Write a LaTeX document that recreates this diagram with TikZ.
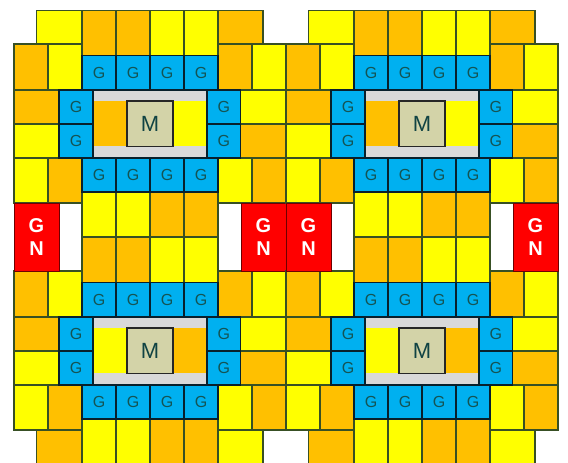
\documentclass[tikz,border=0pt]{standalone}
\usepackage{fontspec}
\setmainfont{Liberation Sans}
\usetikzlibrary{positioning}
\definecolor{tileyellow}{RGB}{255,255,0}
\definecolor{tileorange}{RGB}{255,192,0}
\definecolor{tileedge}{RGB}{56,80,36}
\definecolor{gateblue}{RGB}{0,176,240}
\definecolor{gateedge}{RGB}{8,32,44}
\definecolor{gatetext}{RGB}{20,84,84}
\definecolor{gapgrey}{RGB}{217,217,217}
\definecolor{corekhaki}{RGB}{211,211,168}
\definecolor{gnred}{RGB}{255,0,0}
\definecolor{gnedge}{RGB}{110,0,0}

% box from corner to corner: style, name, x0, y0, x1, y1, text
\newcommand{\cellbox}[7]{%
  \pgfmathsetmacro{\cellw}{(#5)-(#3)}%
  \pgfmathsetmacro{\cellh}{(#6)-(#4)}%
  \pgfmathsetmacro{\cellx}{((#3)+(#5))/2}%
  \pgfmathsetmacro{\celly}{((#4)+(#6))/2}%
  \node[#1, minimum width=\cellw pt, minimum height=\cellh pt] (#2) at (\cellx,\celly) {#7};%
}

\begin{document}
\begin{tikzpicture}[
  x=1pt, y=-1pt,
  base/.style={rectangle, inner sep=0pt, outer sep=0pt},
  ytile/.style={base, draw=tileedge, line width=1.1pt, fill=tileyellow},
  otile/.style={base, draw=tileedge, line width=1.1pt, fill=tileorange},
  gate/.style={base, draw=gateedge, line width=1.2pt, fill=gateblue,
               text=gatetext, font=\fontsize{16}{16}\selectfont},
  gap/.style={base, fill=gapgrey},
  core/.style={base, draw=black!85, line width=1.1pt, fill=corekhaki,
               text=gatetext!80!black, font=\fontsize{22}{22}\selectfont},
  gn/.style={base, draw=gnedge, line width=0.9pt, fill=gnred, text=white,
             align=center, font=\fontsize{20}{23}\selectfont\bfseries}
]
\clip (0,0) rectangle (568,463);

\foreach \bx/\dx in {a/0, b/272} {
\begin{scope}[shift={(\dx,0)}]

  % ── Top row and the two rows between the rings ──
  \cellbox{ytile}{\bx-top1}{36.5}{10.5}{82}{44}{}
  \cellbox{otile}{\bx-top2}{82}{10.5}{116}{55.5}{}
  \cellbox{otile}{\bx-top3}{116}{10.5}{150}{55.5}{}
  \cellbox{ytile}{\bx-top4}{150}{10.5}{184}{55.5}{}
  \cellbox{ytile}{\bx-top5}{184}{10.5}{218}{55.5}{}
  \cellbox{otile}{\bx-top6}{218}{10.5}{263}{44}{}

  \cellbox{ytile}{\bx-mid1}{82}{192}{116}{237}{}
  \cellbox{ytile}{\bx-mid2}{116}{192}{150}{237}{}
  \cellbox{otile}{\bx-mid3}{150}{192}{184}{237}{}
  \cellbox{otile}{\bx-mid4}{184}{192}{218}{237}{}
  \cellbox{otile}{\bx-mid5}{82}{237}{116}{282.5}{}
  \cellbox{otile}{\bx-mid6}{116}{237}{150}{282.5}{}
  \cellbox{ytile}{\bx-mid7}{150}{237}{184}{282.5}{}
  \cellbox{ytile}{\bx-mid8}{184}{237}{218}{282.5}{}

  % ── Bottom row ──
  \cellbox{otile}{\bx-bot1}{36.5}{430}{82}{470}{}
  \cellbox{ytile}{\bx-bot2}{82}{419}{116}{470}{}
  \cellbox{ytile}{\bx-bot3}{116}{419}{150}{470}{}
  \cellbox{otile}{\bx-bot4}{150}{419}{184}{470}{}
  \cellbox{otile}{\bx-bot5}{184}{419}{218}{470}{}
  \cellbox{ytile}{\bx-bot6}{218}{430}{263}{470}{}

  % ── Upper and lower ring: same rows, centre colours swapped ──
  \foreach \by/\dy/\lc/\rc in {u/0/otile/ytile, l/227/ytile/otile} {
  \begin{scope}[shift={(0,\dy)}]
    \cellbox{otile}{\bx\by-a1}{14}{44}{48}{90}{}
    \cellbox{ytile}{\bx\by-a2}{48}{44}{82}{90}{}
    \cellbox{otile}{\bx\by-a3}{218}{44}{252}{90}{}
    \cellbox{ytile}{\bx\by-a4}{252}{44}{286}{90}{}

    \cellbox{otile}{\bx\by-b1}{14}{90}{59}{124}{}
    \cellbox{ytile}{\bx\by-b2}{240}{90}{286}{124}{}
    \cellbox{ytile}{\bx\by-b3}{14}{124}{59}{158}{}
    \cellbox{otile}{\bx\by-b4}{240}{124}{286}{158}{}

    \cellbox{ytile}{\bx\by-c1}{14}{158}{48}{203}{}
    \cellbox{otile}{\bx\by-c2}{48}{158}{82}{203}{}
    \cellbox{ytile}{\bx\by-c3}{218}{158}{252}{203}{}
    \cellbox{otile}{\bx\by-c4}{252}{158}{286}{203}{}

    % centre
    \cellbox{gap}{\bx\by-gapn}{93}{90}{207}{101}{}
    \cellbox{gap}{\bx\by-gaps}{93}{146}{207}{158}{}
    \cellbox{\lc, draw=none}{\bx\by-cl}{94}{101}{127}{146}{}
    \cellbox{\rc, draw=none}{\bx\by-cr}{173}{101}{207}{146}{}
    \cellbox{core}{\bx\by-m}{127}{101}{173}{146.5}{M}

    % gates
    \foreach \i in {0,...,3} {
      \cellbox{gate}{\bx\by-gn\i}{82+34*\i}{55.5}{116+34*\i}{90}{G}
      \cellbox{gate}{\bx\by-gs\i}{82+34*\i}{158}{116+34*\i}{192}{G}
    }
    \foreach \j in {0,1} {
      \cellbox{gate}{\bx\by-gw\j}{59}{90+34*\j}{93}{124+34*\j}{G}
      \cellbox{gate}{\bx\by-ge\j}{207}{90+34*\j}{240.5}{124+34*\j}{G}
    }
  \end{scope}
  }

  % ── Red end pieces ──
  \cellbox{gn}{\bx-gnl}{14}{203}{59}{271}{G\\N}
  \cellbox{gn}{\bx-gnr}{241}{203}{286}{271}{G\\N}

\end{scope}
}
\end{tikzpicture}
\end{document}
